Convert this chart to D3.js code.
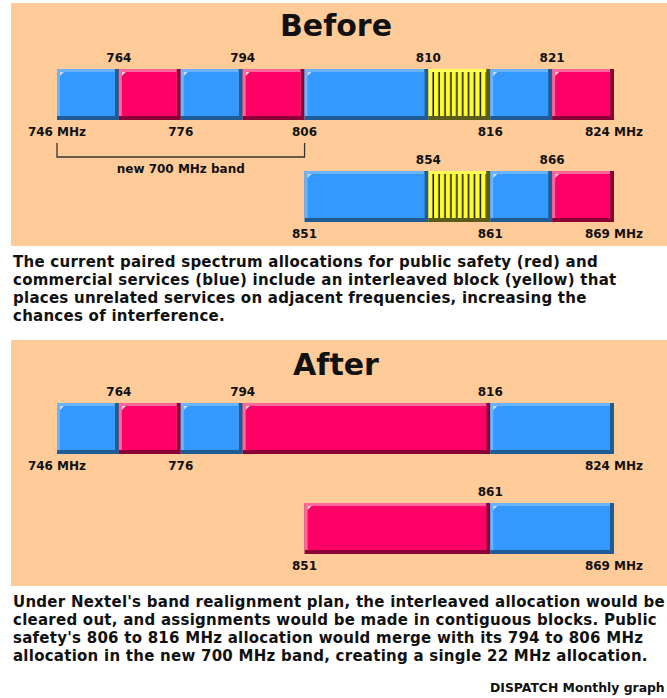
<!DOCTYPE html>
<html>
<head>
<meta charset="utf-8">
<script src="https://cdn.jsdelivr.net/npm/d3@7"></script>
<style>
  body { margin: 0; background: #fff; }
  svg text { font-family: "DejaVu Sans", sans-serif; font-weight: bold; fill: #111; }
</style>
</head>
<body>
<svg id="chart"></svg>
<script>
// Schematic frequency axis: each break frequency sits on a slot (one block width per slot)
const upperFreqs = [746, 764, 776, 794, 806, 810, 816, 821, 824];
const upperSlots = [0, 1, 2, 3, 4, 6, 7, 8, 9];
const lowerFreqs = [851, 854, 861, 866, 869];
const lowerSlots = [4, 6, 7, 8, 9];

// Blocks as [from MHz, to MHz, service]; c = commercial, p = public safety, i = interleaved
const beforeUpper = [[746, 764, "c"], [764, 776, "p"], [776, 794, "c"], [794, 806, "p"],
                     [806, 810, "c"], [810, 816, "i"], [816, 821, "c"], [821, 824, "p"]];
const beforeLower = [[851, 854, "c"], [854, 861, "i"], [861, 866, "c"], [866, 869, "p"]];
const afterUpper = [[746, 764, "c"], [764, 776, "p"], [776, 794, "c"], [794, 816, "p"], [816, 824, "c"]];
const afterLower = [[851, 861, "p"], [861, 869, "c"]];

// Tick labels above / below each band
const beforeUpperTop = ["764", "794", "810", "821"];
const beforeUpperBottom = ["746 MHz", "776", "806", "816", "824 MHz"];
const beforeLowerTop = ["854", "866"];
const beforeLowerBottom = ["851", "861", "869 MHz"];
const afterUpperTop = ["764", "794", "816"];
const afterUpperBottom = ["746 MHz", "776", "824 MHz"];
const afterLowerTop = ["861"];
const afterLowerBottom = ["851", "869 MHz"];

const bracketRange = [746, 806];
const bracketLabel = "new 700 MHz band";

const beforeCaption = [
  "The current paired spectrum allocations for public safety (red) and",
  "commercial services (blue) include an interleaved block (yellow) that",
  "places unrelated services on adjacent frequencies, increasing the",
  "chances of interference."
];
const afterCaption = [
  "Under Nextel's band realignment plan, the interleaved allocation would be",
  "cleared out, and assignments would be made in contiguous blocks. Public",
  "safety's 806 to 816 MHz allocation would merge with its 794 to 806 MHz",
  "allocation in the new 700 MHz band, creating a single 22 MHz allocation."
];
const credit = "DISPATCH Monthly graph";

const palette = {
  c: { fill: "#3399ff", light: "#6ab4ff", dark: "#1d5c96" },
  p: { fill: "#ff0066", light: "#ff6699", dark: "#8c0038" },
  i: { fill: "#ffff33", light: "#ffff55", dark: "#5c5c1a" }
};

class SpectrumPanel {
  constructor(_config, _data) {
    this.config = {
      parent: _config.parent,
      top: _config.top,
      height: _config.height,
      title: _config.title,
      titleY: _config.titleY,
      rowTops: _config.rowTops,
      barHeight: 51,
      bevel: 3,
      shade: 4
    };
    this.data = _data;
    this.initVis();
  }

  initVis() {
    let vis = this;
    vis.g = vis.config.parent.append("g");

    vis.g.append("rect")
      .attr("x", 11).attr("y", vis.config.top)
      .attr("width", 656).attr("height", vis.config.height)
      .attr("fill", "#ffcc99");

    vis.g.append("text")
      .attr("x", 336).attr("y", vis.config.titleY)
      .attr("text-anchor", "middle").attr("dy", "0.36em")
      .style("font-size", "30px")
      .text(vis.config.title);

    vis.renderVis();
  }

  renderVis() {
    let vis = this;
    const bh = vis.config.barHeight;

    vis.data.rows.forEach((row, r) => {
      const y0 = vis.config.rowTops[r];
      const row_g = vis.g.append("g");

      const blocks = row_g.selectAll("g.block")
        .data(row.blocks)
        .join("g")
        .attr("class", "block");

      // dark base -> bottom/right shadow
      blocks.append("rect")
        .attr("x", d => row.x(d[0])).attr("y", y0)
        .attr("width", d => row.x(d[1]) - row.x(d[0])).attr("height", bh)
        .attr("fill", d => palette[d[2]].dark);
      // light top/left bevel
      blocks.append("rect")
        .attr("x", d => row.x(d[0])).attr("y", y0)
        .attr("width", d => row.x(d[1]) - row.x(d[0]) - vis.config.shade)
        .attr("height", bh - vis.config.shade)
        .attr("fill", d => palette[d[2]].light);
      // face
      blocks.append("rect")
        .attr("x", d => row.x(d[0]) + vis.config.bevel).attr("y", y0 + vis.config.bevel)
        .attr("width", d => row.x(d[1]) - row.x(d[0]) - vis.config.bevel - vis.config.shade)
        .attr("height", bh - vis.config.bevel - vis.config.shade)
        .attr("fill", d => d[2] === "i" ? "url(#stripes)" : palette[d[2]].fill);
      // little corner glint
      blocks.filter(d => d[2] !== "i").append("path")
        .attr("d", d => {
          const x = row.x(d[0]) + vis.config.bevel, y = y0 + vis.config.bevel;
          return `M${x},${y}h4l-4,4z`;
        })
        .attr("fill", "#d8d8d8");

      row_g.selectAll("text.top")
        .data(row.top)
        .join("text")
        .attr("class", "top")
        .attr("x", d => row.x(parseInt(d))).attr("y", y0 - 11)
        .attr("dy", "0.36em").attr("text-anchor", "middle")
        .style("font-size", "12px")
        .text(d => d);

      row_g.selectAll("text.bottom")
        .data(row.bottom)
        .join("text")
        .attr("class", "bottom")
        .attr("x", d => row.x(parseInt(d))).attr("y", y0 + bh + 12)
        .attr("dy", "0.36em").attr("text-anchor", "middle")
        .style("font-size", "12px")
        .text(d => d);
    });

    if (vis.data.bracket) {
      const b = vis.data.bracket;
      const xa = b.x(b.range[0]), xb = b.x(b.range[1]);
      const yb = vis.config.rowTops[0] + bh + 37;
      vis.g.append("path")
        .attr("d", `M${xa},${yb - 14}V${yb}H${xb}V${yb - 14}`)
        .attr("fill", "none").attr("stroke", "#333").attr("stroke-width", 1.3);
      vis.g.append("text")
        .attr("x", (xa + xb) / 2).attr("y", yb + 12)
        .attr("dy", "0.36em").attr("text-anchor", "middle")
        .style("font-size", "12px")
        .text(b.label);
    }
  }
}

const svg = d3.select("#chart").attr("width", 667).attr("height", 698);

// vertical hatching for the interleaved block
const pat = svg.append("defs").append("pattern")
  .attr("id", "stripes").attr("patternUnits", "userSpaceOnUse")
  .attr("x", 431).attr("width", 5.9).attr("height", 10);
pat.append("rect").attr("width", 5.9).attr("height", 10).attr("fill", palette.i.fill);
pat.append("rect").attr("x", 1.5).attr("width", 1.5).attr("height", 10).attr("fill", "#111");

const slotX = d3.scaleLinear().domain([0, 9]).range([57, 614]);
const upperX = d3.scaleLinear().domain(upperFreqs).range(upperSlots.map(slotX));
const lowerX = d3.scaleLinear().domain(lowerFreqs).range(lowerSlots.map(slotX));

new SpectrumPanel(
  { parent: svg, top: 3, height: 243, title: "Before", titleY: 25, rowTops: [69, 171] },
  {
    rows: [
      { x: upperX, blocks: beforeUpper, top: beforeUpperTop, bottom: beforeUpperBottom },
      { x: lowerX, blocks: beforeLower, top: beforeLowerTop, bottom: beforeLowerBottom }
    ],
    bracket: { x: upperX, range: bracketRange, label: bracketLabel }
  }
);

new SpectrumPanel(
  { parent: svg, top: 340, height: 246, title: "After", titleY: 364, rowTops: [403, 503] },
  {
    rows: [
      { x: upperX, blocks: afterUpper, top: afterUpperTop, bottom: afterUpperBottom },
      { x: lowerX, blocks: afterLower, top: afterLowerTop, bottom: afterLowerBottom }
    ]
  }
);

// captions
function caption(lines, y0) {
  svg.append("g").selectAll("text")
    .data(lines)
    .join("text")
    .attr("x", 13)
    .attr("y", (d, i) => y0 + i * 17.7)
    .attr("dy", "0.36em")
    .style("font-size", "15px")
    .style("letter-spacing", "0.25px")
    .text(d => d);
}
caption(beforeCaption, 262);
caption(afterCaption, 602);

svg.append("text")
  .attr("x", 490).attr("y", 688).attr("dy", "0.36em")
  .style("font-size", "12.4px")
  .text(credit);
</script>
</body>
</html>
